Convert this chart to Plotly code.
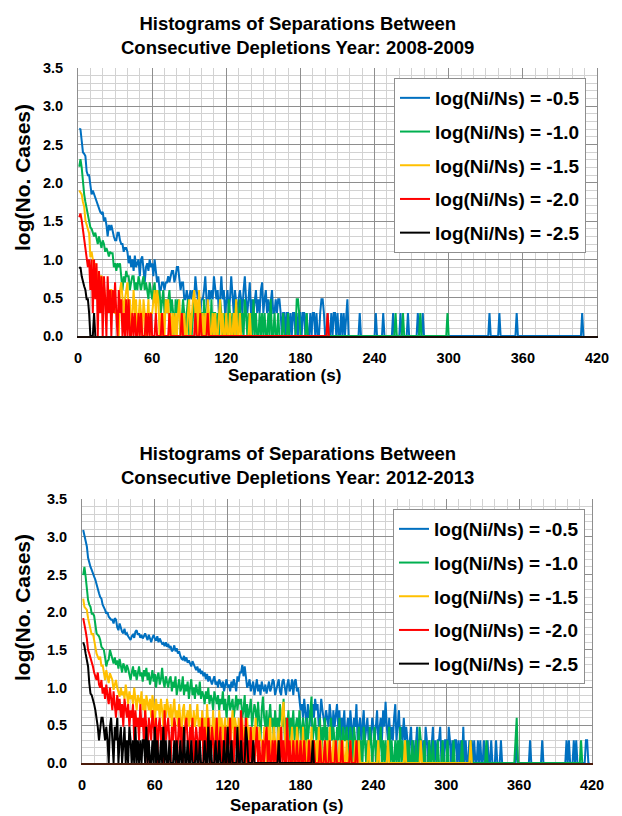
import plotly.graph_objects as go

# ---------------- data (log10 of number of cases, 1-s bins starting at 1 s) ----------------
series_names = ["log(Ni/Ns) = -0.5", "log(Ni/Ns) = -1.0", "log(Ni/Ns) = -1.5",
                "log(Ni/Ns) = -2.0", "log(Ni/Ns) = -2.5"]
x_ticks = [0, 60, 120, 180, 240, 300, 360, 420]

# 2008-2009
y0809_m05 = [
    2.71, 2.70, 2.55, 2.40, 2.38, 2.35, 2.15, 2.10, 2.10, 1.95,
    1.85, 1.90, 1.85, 1.80, 1.75, 1.70, 1.65, 1.62, 1.60, 1.62,
    1.50, 1.55, 1.45, 1.30, 1.45, 1.38, 1.45, 1.35, 1.30, 1.25,
    1.25, 1.35, 1.35, 1.25, 1.20, 1.20, 1.10, 1.15, 1.15, 1.10,
    0.95, 1.05, 0.90, 1.00, 0.85, 1.05, 0.90, 0.95, 1.00, 0.78,
    1.00, 1.04, 0.90, 0.70, 0.90, 0.95, 0.85, 1.00, 0.90, 0.95,
    0.78, 1.00, 0.85, 0.70, 0.78, 0.60, 0.60, 0.70, 0.70, 0.60,
    0.70, 0.70, 0.78, 0.70, 0.78, 0.85, 0.85, 0.70, 0.78, 0.90,
    0.90, 0.78, 0.60, 0.70, 0.70, 0.48, 0.48, 0.60, 0.48, 0.48,
    0.60, 0.48, 0.60, 0.48, 0.78, 0.60, 0.48, 0.48, 0.30, 0.48,
    0.48, 0.60, 0.78, 0.48, 0.30, 0.60, 0.48, 0.60, 0.48, 0.78,
    0.60, 0.48, 0.60, 0.30, 0.48, 0.78, 0.48, 0.60, 0.30, 0.48,
    0.60, 0.30, 0.48, 0.78, 0.48, 0.30, 0.60, 0.48, 0.30, 0.48,
    0.60, 0.48, 0.30, 0.60, 0.78, 0.48, 0.30, 0.48, 0.70, 0.30,
    0.48, 0.30, 0.48, 0.60, 0.30, 0.48, 0.30, 0.60, 0.70, 0.30,
    0.48, 0.60, 0.30, 0.48, 0.30, 0.48, 0.60, 0.30, 0.30, 0.48,
    0.30, 0.48, 0.48, 0.30, 0, 0.30, 0.30, 0, 0.30, 0.30,
    0, 0.30, 0, 0.30, 0.30, 0, 0.30, 0, 0.30, 0.30,
    0, 0.30, 0.30, 0, 0.30, 0, 0, 0.30, 0, 0.30,
    0.30, 0, 0.30, 0, 0, 0.30, 0.48, 0.48, 0.30, 0,
    0, 0.30, 0, 0, 0.30, 0, 0.30, 0.30, 0, 0.30,
    0, 0, 0.30, 0, 0.30, 0, 0.30, 0.48, 0, 0,
    0, 0, 0, 0, 0, 0, 0, 0.30, 0, 0,
    0, 0, 0, 0, 0, 0, 0, 0, 0, 0,
    0.30, 0, 0, 0, 0, 0, 0.30, 0, 0, 0,
    0, 0, 0, 0, 0.30, 0, 0, 0, 0, 0,
    0.30, 0, 0, 0, 0, 0, 0.30, 0, 0, 0,
    0, 0, 0, 0, 0.30, 0, 0, 0, 0.30, 0,
    0, 0, 0, 0, 0, 0, 0, 0, 0, 0,
    0, 0, 0, 0, 0, 0, 0, 0, 0, 0,
    0, 0, 0, 0, 0, 0, 0, 0, 0, 0,
    0, 0, 0, 0, 0, 0, 0, 0, 0, 0,
    0, 0, 0, 0, 0, 0, 0, 0, 0, 0,
    0, 0, 0.30, 0, 0, 0, 0, 0, 0, 0,
    0.30, 0, 0, 0, 0, 0, 0, 0, 0, 0,
    0, 0, 0, 0, 0.30, 0, 0, 0, 0, 0,
    0, 0, 0, 0, 0, 0, 0, 0, 0, 0,
    0, 0, 0, 0, 0, 0, 0, 0, 0, 0,
    0, 0, 0, 0, 0, 0, 0, 0, 0, 0,
    0, 0, 0, 0, 0, 0, 0, 0, 0, 0,
    0, 0, 0, 0, 0, 0, 0, 0.30, 0,
]
y0809_m10 = [
    2.21, 2.31, 2.20, 1.95, 1.85, 1.75, 1.65, 1.55, 1.50, 1.42,
    1.40, 1.35, 1.30, 1.35, 1.25, 1.20, 1.30, 1.20, 1.15, 1.25,
    1.20, 1.10, 1.15, 1.10, 1.04, 1.10, 1.08, 1.08, 0.90, 0.95,
    0.85, 0.95, 0.90, 0.95, 0.78, 0.60, 0.78, 0.70, 0.85, 0.78,
    0.78, 0.60, 0.70, 0.78, 0.78, 0.60, 0.70, 0.60, 0.78, 0.70,
    0.60, 0.70, 0.78, 0.60, 0.70, 0.60, 0.48, 0.70, 0.60, 0.48,
    0.60, 0.70, 0.48, 0.60, 0.48, 0.60, 0.30, 0.48, 0.60, 0.30,
    0.48, 0.30, 0.48, 0.60, 0.30, 0.48, 0.30, 0, 0.48, 0.30,
    0.48, 0.30, 0, 0.30, 0.48, 0.30, 0, 0.30, 0.48, 0,
    0.30, 0, 0.30, 0.48, 0.30, 0, 0.30, 0, 0.30, 0.30,
    0, 0.48, 0.30, 0, 0.30, 0.30, 0, 0.48, 0, 0.30,
    0.30, 0, 0.30, 0, 0.48, 0.30, 0, 0.30, 0, 0.30,
    0, 0.48, 0.30, 0, 0.30, 0, 0.30, 0.48, 0, 0.30,
    0.48, 0, 0.30, 0, 0.48, 0.30, 0, 0.30, 0, 0.30,
    0, 0.48, 0, 0.30, 0, 0, 0.30, 0, 0.30, 0,
    0.30, 0, 0, 0.30, 0, 0.48, 0, 0, 0.30, 0,
    0, 0.30, 0, 0, 0, 0.30, 0, 0, 0, 0.30,
    0, 0, 0, 0, 0, 0, 0.48, 0.48, 0.30, 0,
    0, 0, 0, 0, 0.30, 0, 0, 0, 0, 0,
    0, 0, 0, 0, 0, 0, 0, 0, 0, 0,
    0, 0, 0, 0, 0, 0, 0, 0, 0, 0,
    0, 0, 0, 0, 0, 0, 0, 0, 0, 0,
    0, 0, 0, 0, 0, 0, 0, 0, 0, 0,
    0, 0, 0, 0, 0, 0, 0, 0, 0, 0,
    0, 0, 0, 0, 0, 0, 0, 0, 0, 0,
    0, 0, 0, 0, 0, 0, 0.30, 0, 0, 0,
    0, 0, 0.30, 0, 0, 0, 0, 0, 0, 0,
    0, 0, 0, 0, 0, 0, 0.30, 0, 0, 0,
    0, 0, 0, 0, 0, 0, 0, 0, 0, 0,
    0, 0, 0, 0, 0, 0, 0, 0, 0.30, 0,
]
y0809_m15 = [
    1.90, 1.88, 1.85, 1.75, 1.69, 1.51, 1.45, 1.38, 1.34, 1.03,
    1.10, 1.00, 0.90, 0.95, 0.82, 0.73, 0.60, 0.78, 0.78, 0.70,
    0.65, 0.48, 0.48, 0.30, 0.48, 0.60, 0.60, 0.48, 0.48, 0.30,
    0.30, 0.30, 0, 0.60, 0.70, 0.48, 0.30, 0.48, 0.60, 0.70,
    0.30, 0.48, 0, 0.30, 0.60, 0.30, 0.48, 0, 0.30, 0.48,
    0.30, 0, 0.48, 0.30, 0, 0.30, 0.48, 0, 0.30, 0.30,
    0.48, 0.60, 0.30, 0.60, 0.48, 0, 0.30, 0, 0.30, 0,
    0.48, 0.30, 0.48, 0, 0.30, 0, 0.30, 0, 0.30, 0,
    0.30, 0.48, 0, 0.30, 0, 0.30, 0, 0, 0.30, 0.48,
    0, 0.30, 0.48, 0.60, 0.30, 0.48, 0, 0.60, 0.30, 0,
    0.30, 0, 0.30, 0, 0.48, 0.30, 0, 0, 0.30, 0,
    0.30, 0, 0, 0.30, 0.48, 0, 0.30, 0, 0, 0.30,
    0, 0, 0.30, 0, 0, 0.30, 0, 0.48, 0, 0,
    0.30, 0, 0, 0, 0, 0, 0, 0, 0.30, 0,
]
y0809_m20 = [
    1.55, 1.60, 1.51, 1.38, 1.25, 1.16, 1.00, 0.90, 1.00, 0.60,
    1.00, 0.30, 1.00, 0.48, 0.95, 0, 0.85, 0.30, 0.78, 0,
    0.78, 0.48, 0, 0.78, 0.30, 0.60, 0, 0.60, 0.30, 0.70,
    0.30, 0, 0.60, 0.30, 0.48, 0, 0.30, 0, 0.48, 0,
    0.48, 0, 0, 0.30, 0, 0.30, 0, 0, 0.30, 0,
    0.30, 0, 0, 0, 0.30, 0, 0.30, 0, 0.30, 0,
    0, 0, 0.30, 0, 0, 0, 0, 0.30, 0, 0,
    0, 0, 0, 0.30, 0, 0, 0, 0, 0, 0,
    0, 0, 0, 0.30, 0, 0, 0, 0, 0, 0,
    0, 0, 0, 0, 0.30, 0, 0, 0, 0.30, 0,
    0, 0, 0, 0, 0.30, 0, 0, 0, 0, 0,
    0, 0, 0, 0, 0, 0, 0, 0, 0, 0,
    0, 0, 0, 0, 0, 0, 0, 0, 0, 0,
    0, 0, 0, 0, 0, 0, 0, 0, 0, 0,
    0, 0, 0, 0, 0, 0, 0, 0, 0, 0,
    0, 0, 0, 0, 0, 0, 0, 0, 0, 0,
    0, 0, 0, 0, 0, 0, 0, 0, 0, 0,
    0, 0, 0, 0, 0, 0, 0, 0, 0, 0,
    0, 0, 0, 0, 0, 0, 0, 0, 0, 0,
    0, 0, 0, 0, 0, 0, 0, 0, 0, 0,
    0, 0.30, 0,
]
y0809_m25 = [0.88, 0.90, 0.78, 0.70, 0.65, 0.60, 0.48, 0.48, 0.30, 0,
             0, 0, 0.30, 0]

# 2012-2013
y1213_m05 = [
    3.09, 3.00, 2.92, 2.87, 2.72, 2.65, 2.60, 2.56, 2.50, 2.47,
    2.43, 2.36, 2.30, 2.25, 2.20, 2.18, 2.10, 2.07, 2.03, 1.98,
    2.00, 1.94, 1.92, 1.90, 1.90, 1.85, 1.92, 1.90, 1.80, 1.76,
    1.85, 1.78, 1.74, 1.72, 1.78, 1.70, 1.72, 1.68, 1.65, 1.63,
    1.68, 1.70, 1.66, 1.74, 1.76, 1.70, 1.72, 1.66, 1.70, 1.65,
    1.68, 1.72, 1.67, 1.63, 1.70, 1.65, 1.60, 1.66, 1.70, 1.65,
    1.62, 1.68, 1.60, 1.65, 1.62, 1.58, 1.59, 1.55, 1.60, 1.54,
    1.58, 1.52, 1.55, 1.48, 1.50, 1.56, 1.48, 1.52, 1.45, 1.48,
    1.42, 1.38, 1.37, 1.42, 1.35, 1.40, 1.33, 1.36, 1.32, 1.28,
    1.35, 1.30, 1.25, 1.23, 1.28, 1.20, 1.25, 1.18, 1.22, 1.15,
    1.20, 1.11, 1.18, 1.08, 1.15, 1.10, 1.04, 1.10, 1.15, 1.04,
    1.08, 1.00, 1.11, 1.06, 1.00, 1.08, 0.95, 1.04, 1.11, 1.00,
    1.04, 0.95, 1.08, 1.00, 1.11, 1.04, 0.95, 1.15, 1.08, 1.20,
    1.20, 1.30, 1.15, 1.28, 1.11, 1.00, 1.04, 1.11, 0.95, 1.00,
    1.08, 0.90, 1.00, 1.11, 0.95, 1.04, 0.90, 1.08, 1.00, 0.95,
    1.04, 0.92, 1.00, 1.08, 0.95, 1.00, 1.11, 1.08, 0.90, 1.00,
    1.04, 1.11, 0.95, 0.90, 1.08, 1.11, 1.00, 0.90, 1.04, 1.11,
    0.95, 1.00, 1.11, 0.90, 1.08, 1.11, 0.95, 1.00, 0.85, 0.70,
    0.78, 0.60, 0.85, 0.70, 0.48, 0.78, 0.60, 0.70, 0.48, 0.78,
    0.60, 0.85, 0.70, 0.78, 0.48, 0.60, 0.85, 0.70, 0.60, 0.48,
    0.70, 0.60, 0.48, 0.78, 0.60, 0.30, 0.70, 0.48, 0.60, 0.78,
    0.48, 0.70, 0.30, 0.60, 0.48, 0.70, 0.30, 0.48, 0.60, 0.30,
    0.70, 0.48, 0.30, 0.60, 0.48, 0.78, 0.30, 0.48, 0.60, 0.30,
    0.48, 0.70, 0.30, 0.48, 0.60, 0.30, 0.48, 0.30, 0.60, 0.48,
    0.30, 0.48, 0.70, 0.30, 0.48, 0.60, 0.30, 0.70, 0.48, 0.81,
    0.48, 0.30, 0.60, 0.30, 0.48, 0.30, 0.60, 0.78, 0.30, 0.48,
    0.70, 0.30, 0.48, 0.30, 0.60, 0.30, 0.48, 0.30, 0, 0.30,
    0.48, 0, 0.30, 0, 0.30, 0.48, 0, 0.30, 0.30, 0,
    0.30, 0, 0.48, 0.30, 0, 0.30, 0, 0.30, 0.48, 0,
    0.30, 0, 0.30, 0.30, 0.48, 0, 0.30, 0, 0.30, 0.30,
    0, 0.48, 0.30, 0, 0.30, 0, 0.30, 0.30, 0, 0.30,
    0, 0.30, 0, 0.48, 0, 0.30, 0, 0, 0.30, 0,
    0.30, 0, 0.30, 0, 0, 0.30, 0, 0.30, 0, 0,
    0.30, 0, 0, 0.30, 0, 0, 0.30, 0, 0, 0,
    0.30, 0, 0, 0, 0.30, 0, 0, 0, 0, 0,
    0, 0, 0, 0, 0, 0, 0, 0.30, 0, 0,
    0, 0, 0, 0, 0, 0, 0, 0, 0.30, 0,
    0, 0, 0, 0, 0, 0, 0, 0, 0.30, 0,
    0, 0, 0, 0, 0, 0, 0, 0, 0, 0,
    0, 0, 0, 0, 0, 0, 0, 0, 0.30, 0,
    0.30, 0, 0, 0, 0.30, 0, 0.30, 0, 0, 0,
    0, 0, 0, 0, 0.30, 0.30, 0, 0,
]
y1213_m10 = [
    2.49, 2.60, 2.47, 2.29, 2.16, 2.10, 2.07, 1.98, 1.98, 1.95,
    1.85, 1.72, 1.70, 1.68, 1.63, 1.54, 1.52, 1.50, 1.40, 1.28,
    1.35, 1.37, 1.50, 1.45, 1.38, 1.32, 1.40, 1.30, 1.36, 1.25,
    1.38, 1.30, 1.20, 1.32, 1.28, 1.20, 1.30, 1.25, 1.15, 1.10,
    1.20, 1.28, 1.15, 1.23, 1.10, 1.20, 1.28, 1.15, 1.20, 1.08,
    1.23, 1.15, 1.26, 1.10, 1.20, 1.04, 1.15, 1.23, 1.08, 1.18,
    1.00, 1.15, 1.20, 1.04, 1.11, 1.26, 1.08, 1.00, 1.15, 1.08,
    1.00, 1.11, 1.15, 0.95, 1.08, 1.00, 1.15, 0.90, 1.04, 1.11,
    0.95, 1.00, 1.15, 0.90, 1.04, 0.95, 1.08, 0.85, 1.00, 1.11,
    0.90, 1.00, 0.85, 1.04, 0.95, 0.90, 1.08, 0.85, 0.95, 0.90,
    0.78, 0.95, 0.85, 1.00, 0.78, 0.90, 0.85, 0.70, 0.95, 0.85,
    0.78, 0.90, 0.70, 0.85, 0.78, 0.95, 0.70, 0.85, 0.60, 0.78,
    0.90, 0.70, 0.78, 0.85, 0.60, 0.78, 0.90, 0.70, 0.85, 0.78,
    0.85, 0.60, 0.70, 0.90, 0.48, 0.78, 0.60, 0.70, 0.85, 0.48,
    0.60, 0.78, 0.70, 0.48, 0.81, 0.60, 0.30, 0.70, 0.88, 0.60,
    0.48, 0.70, 0.30, 0.60, 0.78, 0.48, 0.60, 0.30, 0.70, 0.48,
    0.60, 0.30, 0.78, 0.60, 0.48, 0.85, 0.30, 0.60, 0.48, 0.70,
    0.30, 0.60, 0.48, 0.70, 0.30, 0.48, 0.60, 0.30, 0.70, 0.48,
    0.30, 0.60, 0.48, 0, 0.60, 0.30, 0.48, 0.70, 0.88, 0.30,
    0.48, 0.60, 0.30, 0.48, 0.30, 0.60, 0, 0.48, 0.30, 0.60,
    0.30, 0.48, 0, 0.30, 0.60, 0.30, 0.48, 0.30, 0, 0.48,
    0.30, 0.60, 0.30, 0, 0.48, 0.30, 0.30, 0.48, 0, 0.30,
    0.48, 0.30, 0, 0.48, 0.30, 0, 0.30, 0.48, 0, 0.30,
    0, 0.48, 0.30, 0, 0.30, 0, 0.48, 0.30, 0, 0.30,
    0.48, 0, 0.30, 0, 0.30, 0.48, 0, 0.30, 0, 0.30,
    0, 0.30, 0.48, 0, 0.30, 0, 0, 0.30, 0, 0.30,
    0, 0.48, 0, 0.30, 0, 0, 0.30, 0, 0.30, 0,
    0, 0.30, 0, 0, 0.30, 0, 0, 0.48, 0.30, 0,
    0, 0.30, 0, 0, 0, 0.30, 0, 0, 0.30, 0,
    0, 0, 0.30, 0, 0, 0, 0.30, 0, 0, 0,
    0.30, 0, 0, 0, 0, 0.30, 0, 0, 0, 0,
    0, 0, 0.30, 0, 0, 0, 0, 0, 0, 0.30,
    0, 0, 0, 0, 0, 0, 0, 0, 0, 0,
    0, 0, 0.30, 0, 0, 0, 0, 0, 0, 0,
    0, 0, 0, 0, 0, 0, 0, 0, 0, 0,
    0, 0, 0, 0, 0, 0, 0.30, 0.60, 0, 0,
    0, 0, 0, 0, 0, 0, 0, 0, 0, 0,
    0, 0, 0, 0, 0, 0, 0, 0, 0, 0,
    0, 0, 0, 0, 0, 0, 0, 0, 0, 0,
    0, 0, 0, 0, 0, 0, 0, 0, 0, 0,
    0, 0, 0, 0, 0, 0, 0, 0, 0, 0,
    0.30, 0,
]
y1213_m15 = [
    2.18, 2.07, 2.05, 2.03, 1.92, 1.85, 1.81, 1.70, 1.72, 1.65,
    1.54, 1.45, 1.40, 1.37, 1.41, 1.28, 1.30, 1.19, 1.10, 1.23,
    1.15, 1.06, 1.19, 1.15, 1.10, 0.97, 1.04, 1.10, 1.00, 0.95,
    0.88, 1.00, 0.90, 0.95, 0.85, 1.04, 0.90, 0.78, 0.95, 0.85,
    0.90, 0.78, 1.00, 0.85, 0.70, 0.90, 0.85, 0.78, 0.95, 0.70,
    0.85, 0.60, 0.90, 0.78, 0.70, 0.85, 0.60, 0.90, 0.78, 0.48,
    0.85, 0.70, 0.78, 0.60, 0.85, 0.70, 0.48, 0.78, 0.60, 0.85,
    0.70, 0.60, 0.78, 0.48, 0.70, 0.85, 0.60, 0.70, 0.48, 0.78,
    0.60, 0.30, 0.70, 0.78, 0.48, 0.60, 0.70, 0.48, 0.78, 0.60,
    0.30, 0.70, 0.48, 0.60, 0.78, 0.48, 0.60, 0.30, 0.70, 0.48,
    0.60, 0.30, 0.78, 0.48, 0.60, 0, 0.48, 0.70, 0.30, 0.60,
    0.48, 0.30, 0.70, 0.48, 0.60, 0.30, 0.48, 0.60, 0, 0.48,
    0.60, 0.30, 0.48, 0.70, 0.30, 0.60, 0.48, 0, 0.60, 0.30,
    0.48, 0.60, 0.30, 0.48, 0, 0.60, 0.30, 0.48, 0.30, 0,
    0.48, 0.30, 0.60, 0.30, 0, 0.48, 0.30, 0.30, 0, 0.48,
    0.30, 0, 0.48, 0.30, 0.60, 0, 0.30, 0.48, 0.30, 0,
    0.30, 0.48, 0, 0.30, 0.70, 0.81, 0.30, 0, 0.48, 0.30,
    0, 0.30, 0.48, 0, 0.30, 0, 0.48, 0.30, 0, 0.30,
    0, 0.48, 0, 0.30, 0, 0.30, 0.30, 0, 0.48, 0,
    0.30, 0, 0.30, 0, 0.48, 0, 0.30, 0, 0, 0.30,
    0, 0.30, 0, 0.48, 0, 0, 0.30, 0, 0.30, 0,
    0, 0.30, 0, 0, 0.30, 0, 0, 0.30, 0, 0,
    0.30, 0, 0, 0, 0.30, 0, 0, 0.30, 0, 0,
    0, 0, 0, 0, 0, 0.30, 0, 0, 0, 0,
    0, 0, 0, 0.30, 0, 0, 0, 0, 0, 0,
    0, 0.30, 0, 0, 0, 0, 0, 0, 0, 0,
    0, 0, 0, 0, 0, 0.30, 0, 0, 0, 0,
    0, 0, 0, 0, 0, 0, 0, 0, 0.30, 0,
    0, 0, 0, 0, 0, 0, 0, 0, 0, 0,
    0, 0, 0, 0, 0, 0, 0, 0, 0, 0,
    0, 0, 0, 0, 0, 0, 0, 0, 0, 0,
    0, 0, 0, 0, 0, 0, 0, 0, 0, 0.30,
    0,
]
y1213_m20 = [
    1.92, 1.85, 1.75, 1.65, 1.50, 1.45, 1.40, 1.32, 1.28, 1.20,
    1.15, 1.10, 1.20, 1.04, 1.00, 1.10, 0.92, 1.00, 0.85, 1.04,
    0.90, 0.78, 1.00, 0.85, 0.70, 0.95, 0.78, 0.60, 0.90, 0.70,
    0.85, 0.60, 0.78, 0.48, 0.85, 0.70, 0.60, 0.78, 0.48, 0.70,
    0.60, 0.78, 0.30, 0.70, 0.48, 0.60, 0.30, 0.78, 0.48, 0.60,
    0.30, 0.70, 0.48, 0, 0.60, 0.48, 0.30, 0.70, 0.48, 0.30,
    0.60, 0, 0.48, 0.60, 0.30, 0.48, 0, 0.70, 0.30, 0.48,
    0.60, 0.30, 0, 0.48, 0.30, 0.60, 0.48, 0, 0.30, 0.60,
    0.30, 0.48, 0, 0.30, 0.48, 0.60, 0.30, 0, 0.48, 0.30,
    0.60, 0, 0.30, 0.48, 0.30, 0, 0.48, 0.30, 0.60, 0,
    0.48, 0.30, 0, 0.60, 0.30, 0, 0.48, 0.30, 0, 0.30,
    0.60, 0, 0.30, 0.48, 0, 0.30, 0, 0.48, 0.30, 0,
    0.30, 0.60, 0, 0.30, 0, 0.48, 0.30, 0, 0.30, 0,
    0.70, 0.30, 0, 0.30, 0.60, 0, 0.30, 0, 0.48, 0,
    0.30, 0, 0.30, 0.48, 0, 0.30, 0, 0, 0.30, 0,
    0.30, 0.48, 0, 0.30, 0, 0, 0.30, 0, 0.30, 0,
    0, 0.30, 0, 0.48, 0, 0.30, 0, 0, 0.60, 0,
    0.30, 0, 0, 0.30, 0, 0, 0.30, 0, 0, 0.30,
    0, 0, 0.30, 0, 0, 0, 0.30, 0, 0, 0,
    0.30, 0, 0, 0, 0, 0.30, 0, 0, 0, 0.30,
    0, 0, 0, 0.30, 0, 0, 0, 0, 0.30, 0,
    0, 0, 0, 0.30, 0, 0, 0, 0, 0, 0,
    0.30, 0, 0, 0, 0, 0.30, 0,
]
y1213_m25 = [
    1.60, 1.55, 1.45, 1.35, 1.28, 1.06, 0.92, 0.90, 0.85, 0.78,
    0.70, 0.60, 0.48, 0.30, 0.48, 0.60, 0.60, 0.48, 0.30, 0.48,
    0.30, 0, 0.48, 0.60, 0.30, 0, 0.48, 0.30, 0.60, 0,
    0.30, 0.48, 0, 0.30, 0.48, 0, 0.30, 0, 0.48, 0.30,
    0, 0.30, 0, 0.48, 0, 0.30, 0, 0.30, 0, 0.30,
    0.30, 0, 0.48, 0, 0.30, 0, 0, 0.30, 0, 0.48,
    0, 0.30, 0, 0, 0.30, 0, 0.48, 0, 0.30, 0,
    0, 0.30, 0, 0, 0, 0.30, 0, 0.30, 0, 0,
    0.30, 0, 0, 0.48, 0, 0, 0.30, 0, 0, 0.30,
    0, 0, 0, 0.30, 0, 0, 0.30, 0, 0, 0,
    0.30, 0, 0, 0.48, 0, 0.30, 0, 0, 0, 0.30,
    0, 0, 0.30, 0, 0, 0, 0.30, 0, 0, 0.48,
    0, 0, 0.30, 0, 0, 0, 0, 0.48, 0, 0,
    0.30, 0, 0, 0, 0.48, 0.30, 0, 0, 0, 0,
    0.30, 0, 0, 0, 0, 0, 0, 0, 0, 0,
    0, 0, 0, 0, 0, 0, 0, 0, 0, 0,
    0, 0.30, 0, 0, 0, 0, 0, 0, 0, 0,
    0, 0, 0, 0, 0, 0, 0, 0, 0, 0,
    0, 0, 0, 0, 0, 0, 0, 0, 0, 0.30,
    0,
]

top_series = [y0809_m05, y0809_m10, y0809_m15, y0809_m20, y0809_m25]
bottom_series = [y1213_m05, y1213_m10, y1213_m15, y1213_m20, y1213_m25]

# ---------------- styling ----------------
W, H = 622, 816
FONT = "Liberation Sans, Arial, Helvetica, sans-serif"
colors = ["#0070C0", "#00B050", "#FFC000", "#FF0000", "#000000"]
MAJOR = "#8e8e8e"
MINOR = "#d2d2d2"


def px(x):
    return x / W


def py(y):
    return 1 - y / H


fig = go.Figure()
for k, (vals, name, col) in enumerate(zip(top_series, series_names, colors)):
    fig.add_trace(go.Scatter(
        x=list(range(1, len(vals) + 1)), y=vals, mode="lines",
        line=dict(color=col, width=2), name=name, legendgroup=f"t{k}",
        legend="legend", xaxis="x", yaxis="y"))
for k, (vals, name, col) in enumerate(zip(bottom_series, series_names, colors)):
    fig.add_trace(go.Scatter(
        x=list(range(1, len(vals) + 1)), y=vals, mode="lines",
        line=dict(color=col, width=2), name=name, legendgroup=f"b{k}",
        legend="legend2", xaxis="x2", yaxis="y2"))

tickfont = dict(family=FONT, size=14.5, color="black", weight="bold")


def xaxis(domain, anchor, linecolor):
    return dict(domain=domain, anchor=anchor, range=[0, 420], tickmode="array",
                tickvals=x_ticks, ticktext=[str(v) for v in x_ticks],
                showgrid=True, gridcolor=MAJOR, gridwidth=1,
                minor=dict(dtick=10, tick0=0, showgrid=True, gridcolor=MINOR, gridwidth=1),
                zeroline=False, showline=True, linecolor=linecolor, linewidth=2,
                layer="above traces", ticks="", ticklabelstandoff=8,
                tickfont=tickfont, fixedrange=True, automargin=False)


def yaxis(domain, anchor):
    return dict(domain=domain, anchor=anchor, range=[0, 3.5], dtick=0.5, tick0=0,
                tickformat=".1f", showgrid=True, gridcolor=MAJOR, gridwidth=1,
                minor=dict(dtick=0.1, tick0=0, showgrid=True, gridcolor=MINOR, gridwidth=1),
                zeroline=False, showline=True, mirror=True, linecolor=MAJOR,
                linewidth=1, ticks="", ticklabelstandoff=11, tickfont=tickfont,
                fixedrange=True, automargin=False)


legend_common = dict(bgcolor="white", bordercolor="#8e8e8e", borderwidth=1,
                     font=dict(family=FONT, size=19, color="black", weight="bold"),
                     xanchor="left", yanchor="top", tracegroupgap=6)

title_font = dict(family=FONT, size=18.5, color="black", weight="bold")
axis_font = dict(family=FONT, size=17, color="black", weight="bold")
ytitle_font = dict(family=FONT, size=21, color="black", weight="bold")

annotations = [
    dict(text="Histograms of Separations Between<br>Consecutive Depletions Year: 2008-2009",
         x=px(297), y=py(35.5), xref="paper", yref="paper", showarrow=False,
         xanchor="center", yanchor="middle", font=title_font),
    dict(text="Histograms of Separations Between<br>Consecutive Depletions Year: 2012-2013",
         x=px(297), y=py(465), xref="paper", yref="paper", showarrow=False,
         xanchor="center", yanchor="middle", font=title_font),
    dict(text="log(No. Cases)", textangle=-90, x=px(22), y=py(178), xref="paper",
         yref="paper", showarrow=False, xanchor="center", yanchor="middle", font=ytitle_font),
    dict(text="log(No. Cases)", textangle=-90, x=px(22), y=py(608), xref="paper",
         yref="paper", showarrow=False, xanchor="center", yanchor="middle", font=ytitle_font),
    dict(text="Separation (s)", x=px(284), y=py(376), xref="paper", yref="paper",
         showarrow=False, xanchor="center", yanchor="middle", font=axis_font),
    dict(text="Separation (s)", x=px(286), y=py(805), xref="paper", yref="paper",
         showarrow=False, xanchor="center", yanchor="middle", font=axis_font),
]

fig.update_layout(
    template="none",
    width=W, height=H, margin=dict(l=0, r=0, t=0, b=0, autoexpand=False),
    paper_bgcolor="white", plot_bgcolor="white",
    font=dict(family=FONT, color="black"),
    xaxis=xaxis([px(78), px(597)], "y", "#1a0d08"),
    yaxis=yaxis([py(336), py(68)], "x"),
    xaxis2=xaxis([px(82), px(592)], "y2", "#4a1a0a"),
    yaxis2=yaxis([py(763), py(499)], "x2"),
    legend=dict(x=px(394), y=py(78), **legend_common),
    legend2=dict(x=px(393), y=py(509), **legend_common),
    annotations=annotations, showlegend=True,
)

fig.write_html("out.html")
